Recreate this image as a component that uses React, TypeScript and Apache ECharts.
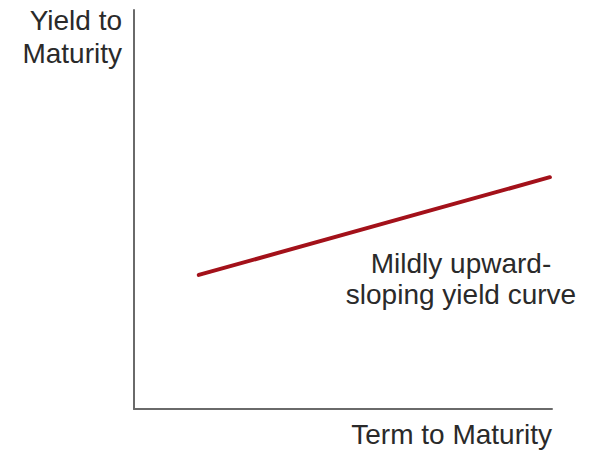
import React, { useEffect, useRef } from "react";
import * as echarts from "echarts";

// Two end points of the mildly upward-sloping yield curve
const termToMaturity = [15.5, 99.5];
const yieldToMaturity = [33.6, 58.1];

const yAxisTitle = ["Yield to", "Maturity"];
const xAxisTitle = "Term to Maturity";
const curveLabel = ["Mildly upward-", "sloping yield curve"];

const FONT = "'Liberation Sans', Arial, Helvetica, sans-serif";

export default function App() {
  const ref = useRef<HTMLDivElement>(null);

  useEffect(() => {
    if (!ref.current) return;
    const chart = echarts.init(ref.current, null, { renderer: "svg" });
    chart.setOption({
      animation: false,
      backgroundColor: "#ffffff",
      grid: { left: 134, top: 10, right: 37, bottom: 42 },
      xAxis: {
        type: "value",
        min: 0,
        max: 100,
        axisLine: { show: true, lineStyle: { color: "#6a6a6a", width: 2 } },
        axisTick: { show: false },
        axisLabel: { show: false },
        splitLine: { show: false },
      },
      yAxis: {
        type: "value",
        min: 0,
        max: 100,
        axisLine: { show: true, lineStyle: { color: "#6a6a6a", width: 2 } },
        axisTick: { show: false },
        axisLabel: { show: false },
        splitLine: { show: false },
      },
      series: [
        {
          type: "line",
          data: termToMaturity.map((t, i) => [t, yieldToMaturity[i]]),
          symbol: "none",
          lineStyle: { color: "#a3111a", width: 4, cap: "round" },
        },
      ],
      graphic: [
        {
          type: "text",
          x: 122,
          y: 37,
          style: {
            text: yAxisTitle.join("\n"),
            font: `28px ${FONT}`,
            lineHeight: 33,
            fill: "#2a2a2a",
            align: "right",
            verticalAlign: "middle",
          },
        },
        {
          type: "text",
          x: 461,
          y: 279,
          style: {
            text: curveLabel.join("\n"),
            font: `28px ${FONT}`,
            lineHeight: 31,
            fill: "#2a2a2a",
            align: "center",
            verticalAlign: "middle",
          },
        },
        {
          type: "text",
          x: 552,
          y: 434,
          style: {
            text: xAxisTitle,
            font: `28px ${FONT}`,
            fill: "#2a2a2a",
            align: "right",
            verticalAlign: "middle",
          },
        },
      ],
    });
    return () => chart.dispose();
  }, []);

  return (
    <div
      ref={ref}
      style={{ width: 589, height: 451, position: "absolute", left: 0, top: 0 }}
    />
  );
}
